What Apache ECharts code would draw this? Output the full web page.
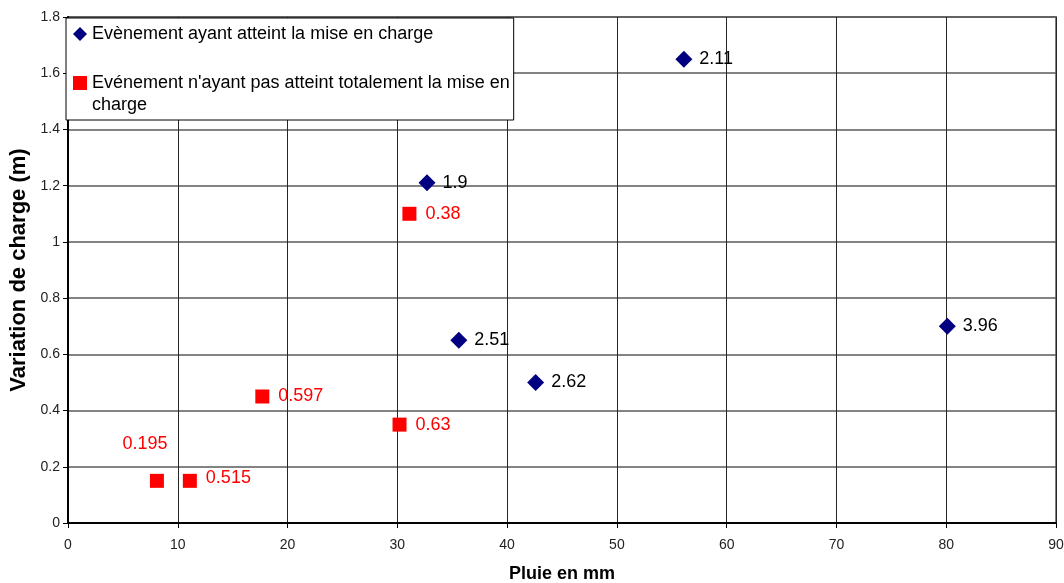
<!DOCTYPE html>
<html>
<head>
<meta charset="utf-8">
<script src="https://cdn.jsdelivr.net/npm/echarts@6/dist/echarts.min.js"></script>
<style>
  html, body { margin: 0; padding: 0; background: #fff; }
  #chart { width: 1064px; height: 583px; }
</style>
</head>
<body>
<div id="chart"></div>
<script>
// Events that reached full surcharge (pluie en mm, variation de charge en m, label)
const pluieAtteint = [32.7, 56.1, 35.6, 42.6, 80.1];
const chargeAtteint = [1.21, 1.65, 0.65, 0.50, 0.70];
const labelAtteint = ['1.9', '2.11', '2.51', '2.62', '3.96'];

// Events that did not fully reach surcharge
const pluiePartiel = [31.1, 17.7, 30.2, 8.1, 11.1];
const chargePartiel = [1.10, 0.45, 0.35, 0.15, 0.15];
const labelPartiel = ['0.38', '0.597', '0.63', '0.195', '0.515'];

const nameAtteint = 'Evènement ayant atteint la mise en charge';
// leading blank line keeps the legend icon level with the first text line
const namePartiel = " \nEvénement n'ayant pas atteint totalement la mise en\ncharge";

const FONT = '"Liberation Sans", Arial, sans-serif';

function buildPoints(xs, ys, labels, specialLabel) {
  return xs.map((x, i) => {
    const item = { value: [x, ys[i]], label: { formatter: labels[i] } };
    if (specialLabel && specialLabel[labels[i]]) {
      item.label = Object.assign(item.label, specialLabel[labels[i]]);
    }
    return item;
  });
}

const chart = echarts.init(document.getElementById('chart'), null, { renderer: 'canvas' });

chart.setOption({
  backgroundColor: '#ffffff',
  animation: false,
  textStyle: { fontFamily: FONT },
  grid: {
    left: 68, right: 8, top: 17, bottom: 60,
    outerBoundsMode: 'none',
    containLabel: false,
    show: true, borderColor: '#808080', borderWidth: 2, backgroundColor: '#ffffff'
  },
  legend: {
    orient: 'vertical',
    left: 66, top: 18,
    padding: [5, 4, 4, 7],
    itemGap: 5,
    itemWidth: 14, itemHeight: 14,
    backgroundColor: '#ffffff',
    borderColor: '#000000', borderWidth: 1, borderRadius: 0,
    textStyle: { fontFamily: FONT, fontSize: 18, color: '#000', lineHeight: 22 },
    data: [
      { name: nameAtteint, icon: 'diamond' },
      { name: namePartiel, icon: 'rect' }
    ]
  },
  xAxis: {
    type: 'value', min: 0, max: 90, interval: 10,
    name: 'Pluie en mm', nameLocation: 'middle', nameGap: 42,
    nameTextStyle: { fontFamily: FONT, fontSize: 18, fontWeight: 'bold', color: '#000' },
    axisLine: { show: true, onZero: false, lineStyle: { color: '#000', width: 2 } },
    axisTick: { show: true, inside: false, length: 5, lineStyle: { color: '#000' } },
    axisLabel: { fontFamily: FONT, fontSize: 14, color: '#222', margin: 15 },
    splitLine: { show: true, lineStyle: { color: '#262626', width: 1 } }
  },
  yAxis: {
    type: 'value', min: 0, max: 1.8, interval: 0.2,
    name: 'Variation de charge (m)', nameLocation: 'middle', nameGap: 35,
    nameTextStyle: { fontFamily: FONT, fontSize: 22, fontWeight: 'bold', color: '#000' },
    axisLine: { show: true, onZero: false, lineStyle: { color: '#000', width: 2 } },
    axisTick: { show: true, inside: false, length: 5, lineStyle: { color: '#000' } },
    axisLabel: { fontFamily: FONT, fontSize: 14, color: '#222', margin: 8 },
    splitLine: { show: true, lineStyle: { color: '#5a5a5a', width: 1.5 } }
  },
  series: [
    {
      name: nameAtteint,
      type: 'scatter',
      symbol: 'diamond',
      symbolSize: [17, 17],
      itemStyle: { color: '#000080', opacity: 1 },
      label: {
        show: true, position: 'right', distance: 7,
        fontFamily: FONT, fontSize: 18, color: '#000'
      },
      data: buildPoints(pluieAtteint, chargeAtteint, labelAtteint)
    },
    {
      name: namePartiel,
      type: 'scatter',
      symbol: 'rect',
      symbolSize: [14, 14],
      itemStyle: { color: '#ff0000', opacity: 1 },
      label: {
        show: true, position: 'right', distance: 9,
        fontFamily: FONT, fontSize: 18, color: '#ff0000'
      },
      data: buildPoints(pluiePartiel, chargePartiel, labelPartiel, {
        '0.195': { position: 'top', distance: 21, offset: [-12, 0] },
        '0.515': { offset: [0, -3] }
      })
    }
  ]
});
</script>
</body>
</html>
